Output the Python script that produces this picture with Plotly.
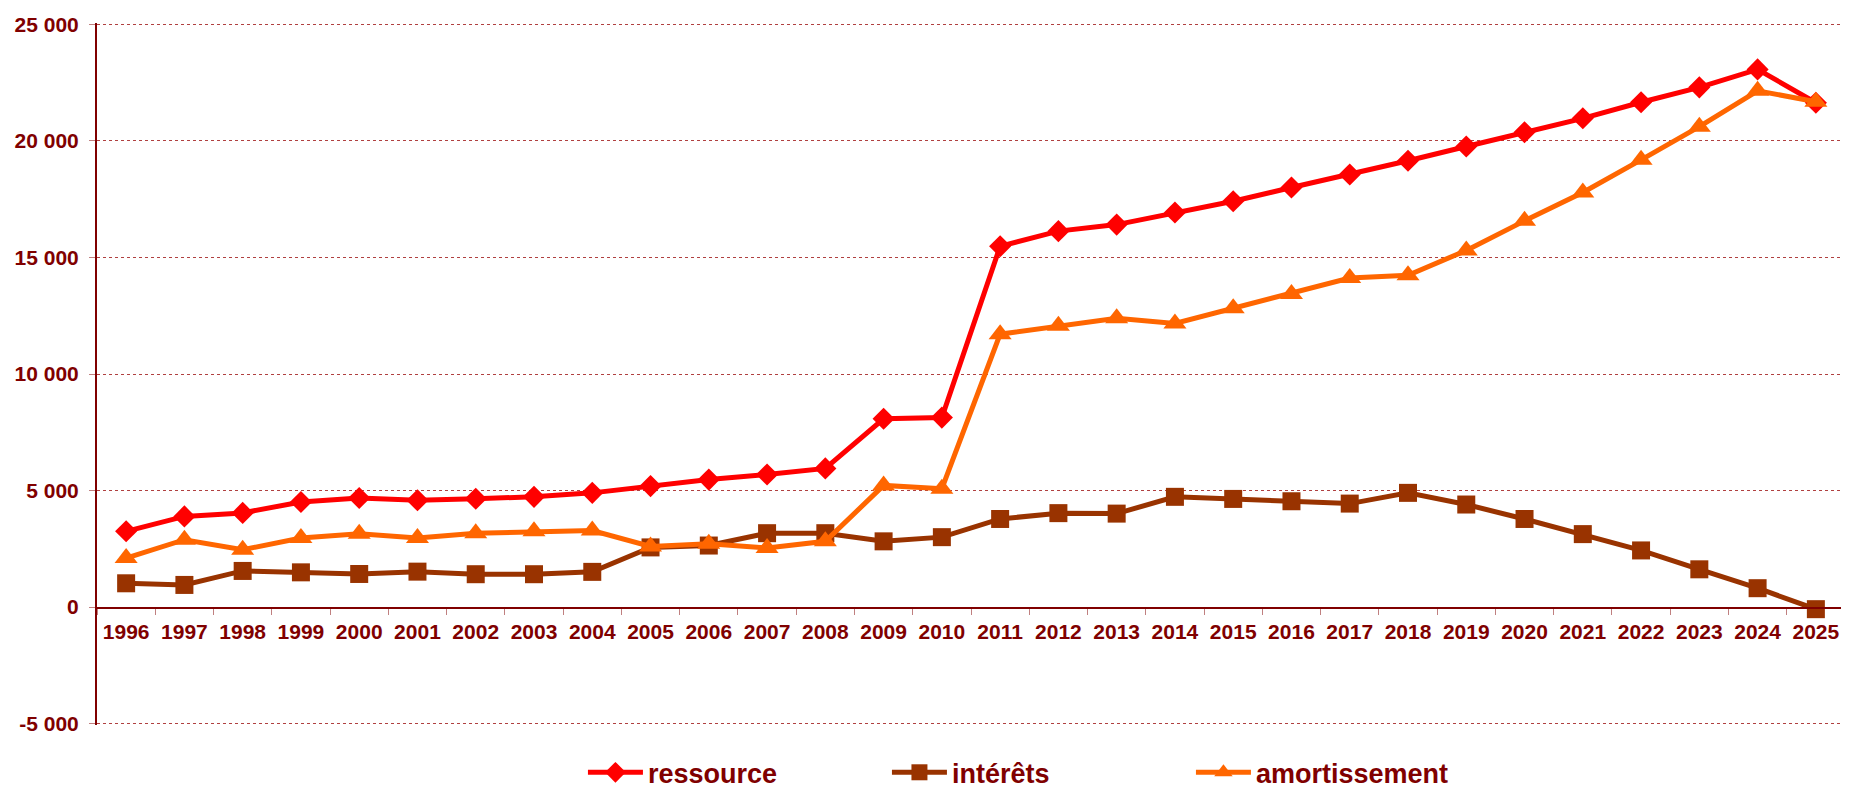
import plotly.graph_objects as go

years = [str(y) for y in range(1996, 2026)]

ressource = [3250, 3890, 4040, 4510, 4680, 4580, 4650, 4730, 4900,
             5190, 5470, 5690, 5950, 8080, 8130, 15480, 16130, 16410,
             16930, 17410, 18000, 18560, 19150, 19760, 20370, 20970,
             21660, 22300, 23070, 21640]

interets = [1020, 950, 1550, 1490, 1420, 1520, 1410, 1410, 1510,
            2560, 2640, 3170, 3170, 2820, 3000, 3780, 4030, 4010,
            4730, 4640, 4540, 4440, 4900, 4400, 3780, 3130,
            2430, 1620, 810, -90]

amortissement = [2100, 2890, 2460, 2960, 3150, 2960, 3170, 3250, 3280,
                 2600, 2720, 2530, 2820, 5220, 5080, 11710, 12070, 12390,
                 12170, 12820, 13430, 14120, 14240, 15300, 16570, 17790,
                 19190, 20610, 22150, 21680]

y_ticks = [-5000, 0, 5000, 10000, 15000, 20000, 25000]
y_tick_labels = ["-5 000", "0", "5 000", "10 000", "15 000", "20 000", "25 000"]

TXT = "#800000"
FONT = "Liberation Sans, Arial, sans-serif"

fig = go.Figure()
fig.add_trace(go.Scatter(x=years, y=ressource, name="ressource", mode="lines+markers",
                         line=dict(color="#FF0000", width=5),
                         marker=dict(symbol="diamond", size=17, color="#FF0000")))
fig.add_trace(go.Scatter(x=years, y=interets, name="intérêts", mode="lines+markers",
                         line=dict(color="#993300", width=5),
                         marker=dict(symbol="square", size=18, color="#993300")))
fig.add_trace(go.Scatter(x=years, y=amortissement, name="amortissement", mode="lines+markers",
                         line=dict(color="#FF6600", width=5),
                         marker=dict(symbol="triangle-up", size=20, color="#FF6600")))

fig.update_layout(
    width=1841, height=784,
    margin=dict(l=89, r=4, t=15, b=67, autoexpand=False),
    paper_bgcolor="white", plot_bgcolor="white",
    font=dict(family=FONT, color=TXT),
    showlegend=True,
    legend=dict(orientation="h", x=0.278, xanchor="left", y=-0.068, yanchor="middle",
                font=dict(family=FONT, size=27, color=TXT, weight="bold"),
                itemwidth=55,
                entrywidth=234, entrywidthmode="pixels", bgcolor="rgba(0,0,0,0)"),
    xaxis=dict(type="category", range=[-0.5, 29.5], anchor="free", position=1/6,
               showline=True, linecolor=TXT, linewidth=2,
               ticks="outside", tickson="boundaries", ticklen=6, tickcolor="#C08080",
               showgrid=False, zeroline=False, tickangle=0, ticklabelstandoff=5,
               tickfont=dict(family=FONT, size=21, color=TXT, weight="bold")),
    yaxis=dict(range=[-5060, 25060], tickvals=y_ticks, ticktext=y_tick_labels,
               showline=True, linecolor=TXT, linewidth=2,
               ticks="outside", ticklen=6, tickcolor="#C08080", ticklabelstandoff=6,
               showgrid=True, gridcolor="#B04040", gridwidth=1, griddash="dot",
               zeroline=False,
               tickfont=dict(family=FONT, size=21, color=TXT, weight="bold")),
)

fig.write_html("out.html")
